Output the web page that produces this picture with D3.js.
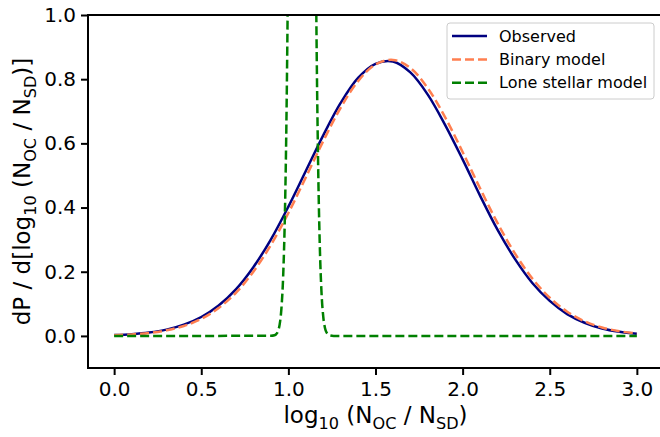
<!DOCTYPE html>
<html>
<head>
  <style>
    body {
      margin: 0;
      background: white;
    }
    text {
      font-family: "DejaVu Sans", sans-serif;
      fill: black;
    }
  </style>
</head>
<body>
  <div id="chart"></div>
  <script src="https://d3js.org/d3.v7.min.js"></script>
  <script>
    var width = 660, height = 437;

    // sample points
    var xGrid = [0.0, 0.1, 0.2, 0.3, 0.4, 0.5, 0.6, 0.7, 0.8, 0.9, 1.0,
                 1.1, 1.2, 1.3, 1.4, 1.5, 1.6, 1.7, 1.8, 1.9, 2.0,
                 2.1, 2.2, 2.3, 2.4, 2.5, 2.6, 2.7, 2.8, 2.9, 3.0];
    var observed = [0.0026, 0.0054, 0.0105, 0.0195, 0.035, 0.059, 0.095, 0.146, 0.215, 0.301, 0.403,
                    0.514, 0.625, 0.726, 0.804, 0.848, 0.855, 0.821, 0.752, 0.657, 0.550,
                    0.437, 0.331, 0.240, 0.165, 0.109, 0.068, 0.041, 0.023, 0.0127, 0.0066];
    var binary = [0.0023, 0.0047, 0.0093, 0.0174, 0.031, 0.053, 0.087, 0.135, 0.201, 0.284, 0.383,
                  0.494, 0.607, 0.711, 0.794, 0.846, 0.860, 0.835, 0.772, 0.681, 0.573,
                  0.460, 0.352, 0.257, 0.179, 0.119, 0.0755, 0.0456, 0.0263, 0.0145, 0.0076];

    var loneX = [0.0, 0.90, 0.92, 0.93, 0.94, 0.95, 0.96, 0.97, 0.98, 0.99, 1.00,
                 1.01, 1.02, 1.03, 1.04, 1.05, 1.06, 1.07, 1.08, 1.09, 1.10,
                 1.11, 1.12, 1.13, 1.14, 1.15, 1.16, 1.17, 1.18, 1.19, 1.20,
                 1.21, 1.22, 1.23, 1.24, 1.26, 3.0];
    var lone = [0, 0.0002, 0.0019, 0.0054, 0.0144, 0.036, 0.085, 0.185, 0.378, 0.72, 1.28,
                2.12, 3.28, 4.73, 6.37, 8.0, 9.39, 10.27, 10.5, 9.99, 8.88,
                7.36, 5.70, 4.12, 2.78, 1.74, 1.02, 0.561, 0.287, 0.137, 0.061,
                0.025, 0.0098, 0.0035, 0.0012, 0, 0];

    var xTicks = [0, 0.5, 1.0, 1.5, 2.0, 2.5, 3.0];
    var yTicks = [0, 0.2, 0.4, 0.6, 0.8, 1.0];
    var seriesNames = ["Observed", "Binary model", "Lone stellar model"];
    var seriesColours = ["#000080", "#ff7f50", "#008000"];

    var pLeft = 88, pRight = 663, pTop = 15, pBottom = 368;

    var x = d3.scaleLinear().domain([-0.15, 3.15]).range([pLeft, pRight]);
    var y = d3.scaleLinear().domain([-0.1, 1.0]).range([pBottom, pTop]);

    var svg = d3.select("#chart").append("svg")
        .attr("width", width)
        .attr("height", height);

    svg.append("clipPath").attr("id", "plotclip")
      .append("rect")
        .attr("x", pLeft).attr("y", pTop)
        .attr("width", pRight - pLeft).attr("height", pBottom - pTop);

    var smooth = d3.line()
        .x(d => x(d[0]))
        .y(d => y(d[1]))
        .curve(d3.curveCatmullRom.alpha(0.5));
    var steep = d3.line()
        .x(d => x(d[0]))
        .y(d => y(d[1]))
        .curve(d3.curveMonotoneX);

    var plot = svg.append("g").attr("clip-path", "url(#plotclip)");

    var data = [
      d3.zip(xGrid, observed),
      d3.zip(xGrid, binary),
      d3.zip(loneX, lone)
    ];
    var dashes = [null, "9,4", "9,4"];
    var lines = [smooth, smooth, steep];

    data.forEach((d, i) => {
      plot.append("path")
          .datum(d)
          .attr("d", lines[i])
          .attr("fill", "none")
          .attr("stroke", seriesColours[i])
          .attr("stroke-width", 2.5)
          .attr("stroke-dasharray", dashes[i]);
    });

    // axes
    var xAxis = svg.append("g")
        .attr("transform", "translate(0," + pBottom + ")")
        .call(d3.axisBottom(x).tickValues(xTicks).tickFormat(d3.format(".1f"))
          .tickSize(7).tickPadding(7).tickSizeOuter(0));
    var yAxis = svg.append("g")
        .attr("transform", "translate(" + pLeft + ",0)")
        .call(d3.axisLeft(y).tickValues(yTicks).tickFormat(d3.format(".1f"))
          .tickSize(7).tickPadding(5).tickSizeOuter(0));

    [xAxis, yAxis].forEach(a => {
      a.select(".domain").remove();
      a.selectAll("line").attr("stroke", "black").attr("stroke-width", 2);
      a.selectAll("text").attr("font-size", 20).attr("font-family", "DejaVu Sans").attr("fill", "black");
    });

    // frame
    svg.append("rect")
        .attr("x", pLeft).attr("y", pTop)
        .attr("width", pRight - pLeft).attr("height", pBottom - pTop)
        .attr("fill", "none")
        .attr("stroke", "black")
        .attr("stroke-width", 2);

    // labels with subscripts
    function labelText(sel, parts) {
      var sub = false;
      parts.forEach(p => {
        var isSub = p[1];
        var t = sel.append("tspan").text(p[0]);
        if (isSub) {
          t.attr("font-size", "0.7em").attr("dy", sub ? 0 : 6);
        } else if (sub) {
          t.attr("dy", -6);
        }
        sub = isSub;
      });
    }

    var xLabel = svg.append("text")
        .attr("x", (x(0) + x(3)) / 2)
        .attr("y", 423)
        .attr("text-anchor", "middle")
        .attr("font-size", 23);
    labelText(xLabel, [["log", 0], ["10", 1], [" (N", 0], ["OC", 1], [" / N", 0], ["SD", 1], [")", 0]]);

    var yLabel = svg.append("text")
        .attr("transform", "translate(30," + (pTop + pBottom) / 2 + ") rotate(-90)")
        .attr("text-anchor", "middle")
        .attr("font-size", 23);
    labelText(yLabel, [["dP / d[log", 0], ["10", 1], [" (N", 0], ["OC", 1], [" / N", 0], ["SD", 1], [")]", 0]]);

    // legend
    var legend = svg.append("g");
    legend.append("rect")
        .attr("x", 447).attr("y", 23)
        .attr("width", 207).attr("height", 76)
        .attr("rx", 3)
        .attr("fill", "white").attr("fill-opacity", 0.8)
        .attr("stroke", "#cccccc").attr("stroke-width", 1);

    seriesNames.forEach((name, i) => {
      var cy = 36 + i * 23.4;
      legend.append("line")
          .attr("x1", 452).attr("x2", 487)
          .attr("y1", cy).attr("y2", cy)
          .attr("stroke", seriesColours[i])
          .attr("stroke-width", 2.5)
          .attr("stroke-dasharray", dashes[i]);
      legend.append("text")
          .attr("x", 499).attr("y", cy)
          .attr("dy", "0.35em")
          .attr("font-size", 16)
          .text(name);
    });
  </script>
</body>
</html>
